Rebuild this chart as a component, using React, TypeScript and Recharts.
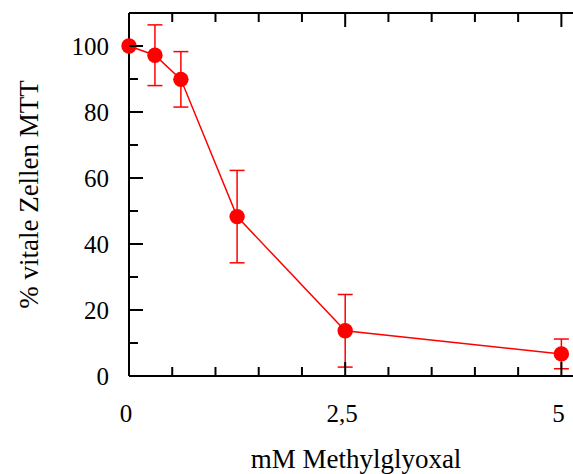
import React from 'react';
import { LineChart, Line, XAxis, YAxis, ErrorBar, Label } from 'recharts';

// Methylglyoxal concentration (mM) and MTT viability (%)
const doses = [0, 0.3, 0.6, 1.25, 2.5, 5];
const viability = [100, 97.2, 89.9, 48.3, 13.7, 6.7];
const errors = [0, 9.2, 8.4, 14, 11, 4.5];

const xTicks = [0, 0.5, 1, 1.5, 2, 2.5, 3, 3.5, 4, 4.5, 5];
const xMajor = [0, 2.5, 5];
const xMajorLabels = ['0', '2,5', '5'];
const yTicks = [0, 10, 20, 30, 40, 50, 60, 70, 80, 90, 100];
const yMajor = [0, 20, 40, 60, 80, 100];

const data = doses.map((dose, i) => ({ dose, value: viability[i], err: errors[i] }));

const RED = '#ff0000';
const FONT = 'Liberation Serif, Tinos, DejaVu Serif, Noto Serif, Times New Roman, Times, serif';
const FONT_SIZE = 25;
const TITLE_SIZE = 27;
const MAJOR = 14;
const MINOR = 9;

const axisLine = { stroke: '#000', strokeWidth: 2 };

const renderBottomTick = (props: any) => {
  const { x, y, payload } = props;
  const idx = xMajor.indexOf(payload.value);
  const len = idx >= 0 ? MAJOR : MINOR;
  return (
    <g>
      <line x1={x} x2={x} y1={y} y2={y - len} stroke="#000" strokeWidth={2} />
      {idx >= 0 && (
        <text x={x - 3} y={y + 46} textAnchor="middle" style={{ fontFamily: FONT, fontSize: FONT_SIZE }} fill="#000">
          {xMajorLabels[idx]}
        </text>
      )}
    </g>
  );
};

const renderTopTick = (props: any) => {
  const { x, y, payload } = props;
  const len = xMajor.includes(payload.value) ? MAJOR : MINOR;
  return <line x1={x} x2={x} y1={y} y2={y + len} stroke="#000" strokeWidth={2} />;
};

const renderLeftTick = (props: any) => {
  const { x, y, payload } = props;
  const major = yMajor.includes(payload.value);
  return (
    <g>
      <line x1={x} x2={x + (major ? MAJOR : MINOR)} y1={y} y2={y} stroke="#000" strokeWidth={2} />
      {major && (
        <text x={x - 20} y={y + 8.5} textAnchor="end" style={{ fontFamily: FONT, fontSize: FONT_SIZE }} fill="#000">
          {payload.value}
        </text>
      )}
    </g>
  );
};

const renderRightTick = (props: any) => {
  const { x, y, payload } = props;
  const len = yMajor.includes(payload.value) ? MAJOR : MINOR;
  return <line x1={x} x2={x - len} y1={y} y2={y} stroke="#000" strokeWidth={2} />;
};

export default function App() {
  return (
    <div
      style={{
        position: 'absolute',
        left: 0,
        top: 0,
        width: 573,
        height: 474,
        overflow: 'hidden',
        background: '#fff',
        fontFamily: FONT,
      }}
    >
      <LineChart width={600} height={474} data={data} margin={{ top: 9, right: 7, bottom: 0, left: 0 }}>
        <XAxis
          dataKey="dose"
          type="number"
          domain={[0, 5.25]}
          ticks={xTicks}
          interval={0}
          height={98}
          tickSize={0}
          tickMargin={0}
          tickLine={false}
          axisLine={axisLine}
          tick={renderBottomTick}
        >
          <Label
            value="mM Methylglyoxal"
            position="insideBottom"
            offset={6}
            style={{ fontFamily: FONT, fontSize: TITLE_SIZE, fill: '#000' }}
          />
        </XAxis>
        <XAxis
          xAxisId="top"
          orientation="top"
          dataKey="dose"
          type="number"
          domain={[0, 5.25]}
          ticks={xTicks}
          interval={0}
          height={4}
          tickSize={0}
          tickMargin={0}
          tickLine={false}
          axisLine={axisLine}
          tick={renderTopTick}
        />
        <YAxis
          type="number"
          domain={[0, 110]}
          ticks={yTicks}
          interval={0}
          width={129}
          tickSize={0}
          tickMargin={0}
          tickLine={false}
          axisLine={axisLine}
          tick={renderLeftTick}
        >
          <Label
            value="% vitale Zellen MTT"
            angle={-90}
            position="insideLeft"
            offset={28}
            style={{ fontFamily: FONT, fontSize: TITLE_SIZE, fill: '#000', textAnchor: 'middle' }}
          />
        </YAxis>
        <YAxis
          yAxisId="right"
          orientation="right"
          type="number"
          domain={[0, 110]}
          ticks={yTicks}
          interval={0}
          width={10}
          tickSize={0}
          tickMargin={0}
          tickLine={false}
          axisLine={axisLine}
          tick={renderRightTick}
        />
        <Line
          type="linear"
          dataKey="value"
          stroke={RED}
          strokeWidth={1.5}
          dot={{ r: 7.7, fill: RED, stroke: 'none' }}
          activeDot={false}
          isAnimationActive={false}
        >
          <ErrorBar dataKey="err" direction="y" width={7.5} stroke={RED} strokeWidth={1.5} />
        </Line>
      </LineChart>
    </div>
  );
}
